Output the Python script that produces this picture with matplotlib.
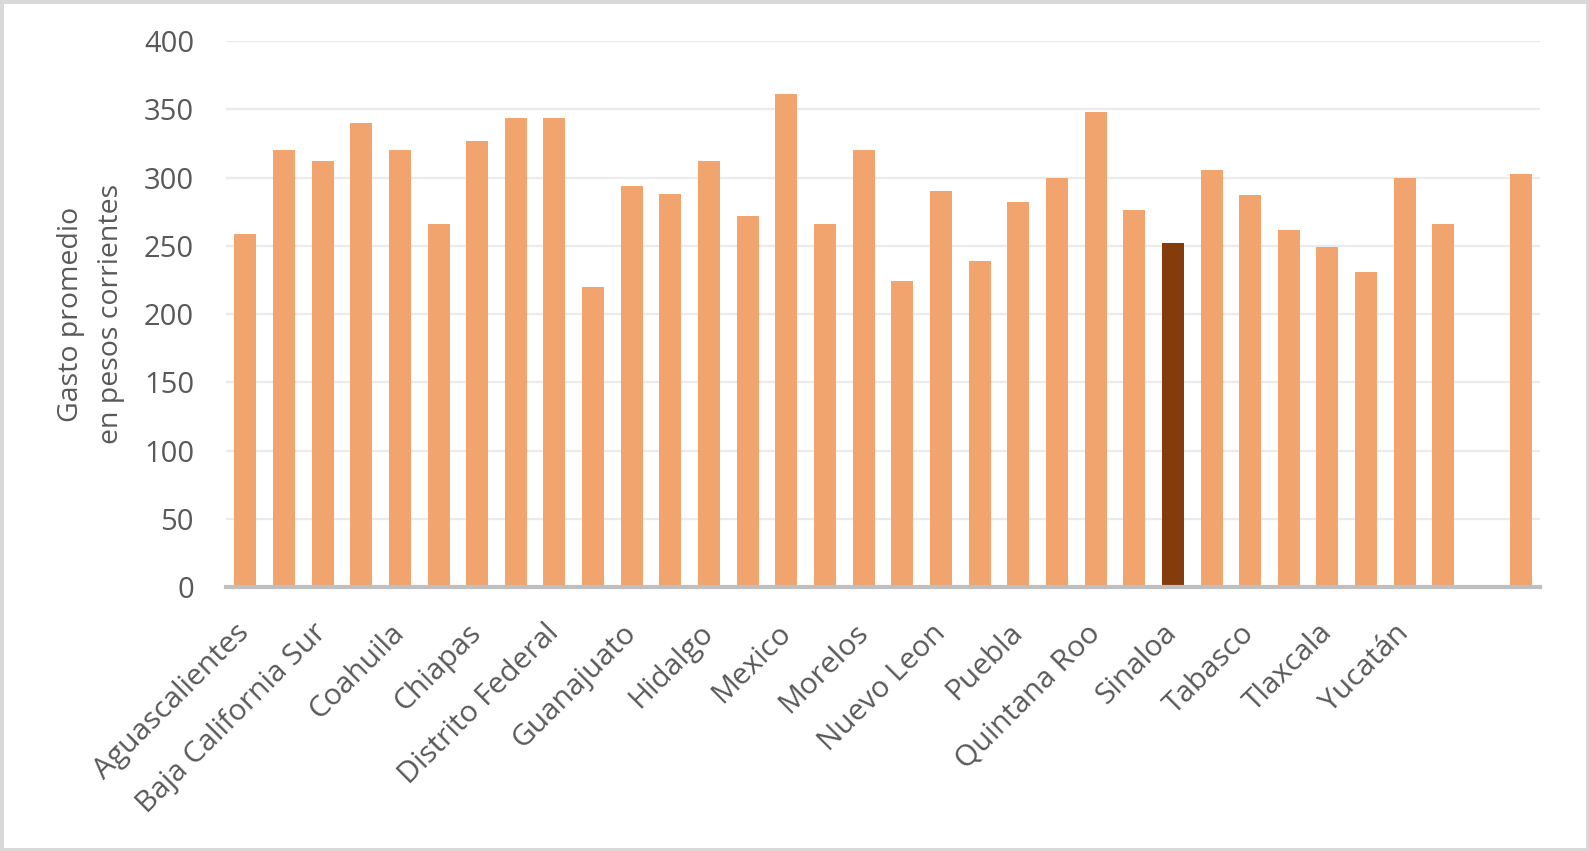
import matplotlib.pyplot as plt
import numpy as np

# Gasto promedio por entidad federativa (pesos corrientes)
states = ['Aguascalientes', 'Baja California', 'Baja California Sur', 'Campeche',
          'Coahuila', 'Colima', 'Chiapas', 'Chihuahua', 'Distrito Federal',
          'Durango', 'Guanajuato', 'Guerrero', 'Hidalgo', 'Jalisco', 'Mexico',
          'Michoacán', 'Morelos', 'Nayarit', 'Nuevo Leon', 'Oaxaca', 'Puebla',
          'Querétaro', 'Quintana Roo', 'San Luis Potosí', 'Sinaloa', 'Sonora',
          'Tabasco', 'Tamaulipas', 'Tlaxcala', 'Veracruz', 'Yucatán',
          'Zacatecas', '', 'Nacional']
values = [259, 320, 312, 340, 320, 266, 327, 344, 344, 220, 294, 288, 312,
          272, 361, 266, 320, 224, 290, 239, 282, 300, 348, 276, 252, 306,
          287, 262, 249, 231, 300, 266, 0, 303]
highlight = 'Sinaloa'

TEXT = '#595959'
FONT = 'Open Sans'
plt.rcParams['font.family'] = [FONT, 'DejaVu Sans']

fig = plt.figure(figsize=(15.89, 8.51), dpi=100)
fig.patch.set_edgecolor('#D9D9D9')
fig.patch.set_linewidth(5)
ax = fig.add_axes([0.1422, 0.3102, 0.9692 - 0.1422, 0.9515 - 0.3102])

x = np.arange(len(states))
colors = ['#843C0C' if s == highlight else '#F1A46D' for s in states]
ax.bar(x, values, width=0.57, color=colors, zorder=3)

ax.set_xlim(-0.5, len(states) - 0.5)
ax.set_ylim(0, 400)
ax.set_yticks(range(0, 401, 50))
ax.grid(axis='y', color='#EBEBEB', linewidth=1.6, zorder=0)
ax.set_axisbelow(True)

for side in ['top', 'right', 'left']:
    ax.spines[side].set_visible(False)
ax.spines['bottom'].set_color('#BFBFBF')
ax.spines['bottom'].set_linewidth(3)
ax.spines['bottom'].set_zorder(4)

ax.tick_params(axis='y', length=0, pad=23, labelsize=21, labelcolor=TEXT)
ax.tick_params(axis='x', length=0, pad=30, labelsize=21.5, labelcolor=TEXT)

ticks = x[::2]
ax.set_xticks(ticks)
ax.set_xticklabels([states[i] for i in ticks], rotation=45, ha='right',
                   rotation_mode='anchor', va='center')

fig.text(91 / 1589, 1 - 314 / 851, 'Gasto promedio\nen pesos corrientes',
         rotation=90, ha='center', va='center', multialignment='center',
         fontsize=20.5, color=TEXT, linespacing=1.55)

fig.savefig('out.png', dpi=100)
